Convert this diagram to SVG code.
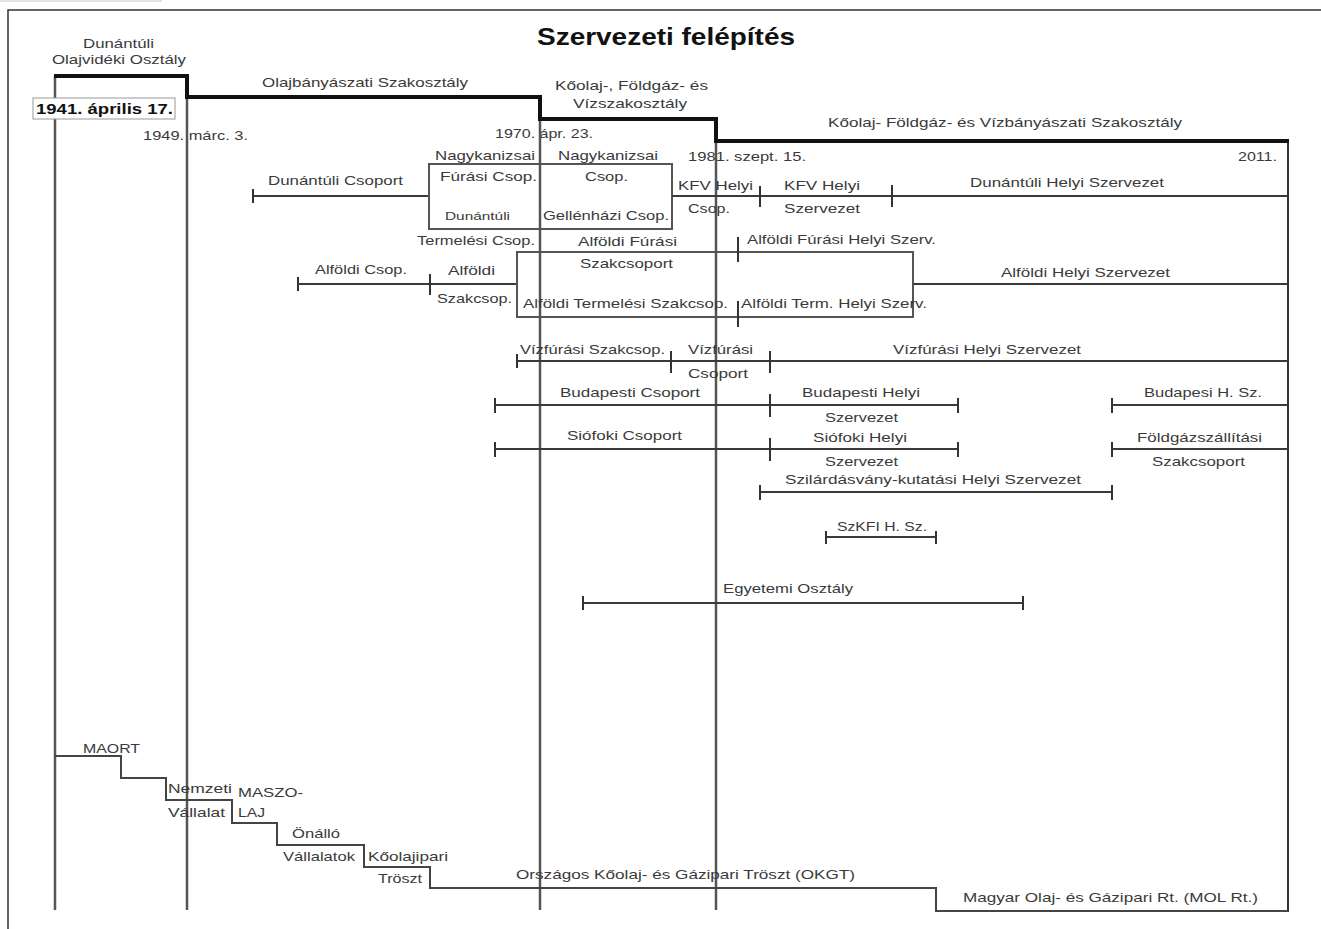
<svg xmlns="http://www.w3.org/2000/svg" width="1321" height="929" viewBox="0 0 1321 929">
<style>
.t{font-family:"Liberation Sans",Arial,sans-serif;font-size:13.5px;fill:#3a3a3a}
.s{font-size:11px}
.b{font-weight:bold;fill:#111}
.ln{stroke:#3a3a3a;stroke-width:2;fill:none}
.tk{stroke:#333;stroke-width:2}
.v{stroke:#555;stroke-width:2.5;fill:none}
.bx{stroke:#555;stroke-width:2;fill:none}
.stair{stroke:#444;stroke-width:2;fill:none}
</style>
<rect x="0" y="0" width="1321" height="929" fill="#fff"/>
<g id="frame">
  <rect x="0" y="0" width="162" height="2" fill="#e2e2e2"/>
  <path d="M8,929 V10 H1321" stroke="#333" stroke-width="1.5" fill="none"/>
  <text class="t b" x="537" y="45" style="font-size:24px" textLength="258" lengthAdjust="spacingAndGlyphs">Szervezeti felépítés</text>
</g>

<g id="texts-top">
  <text class="t" x="83" y="48" textLength="71" lengthAdjust="spacingAndGlyphs">Dunántúli</text>
  <text class="t" x="52" y="64" textLength="134" lengthAdjust="spacingAndGlyphs">Olajvidéki Osztály</text>
  <text class="t" x="262" y="87" textLength="206" lengthAdjust="spacingAndGlyphs">Olajbányászati Szakosztály</text>
  <text class="t" x="555" y="90" textLength="153" lengthAdjust="spacingAndGlyphs">Kőolaj-, Földgáz- és</text>
  <text class="t" x="573" y="108" textLength="114" lengthAdjust="spacingAndGlyphs">Vízszakosztály</text>
  <text class="t" x="828" y="127" textLength="354" lengthAdjust="spacingAndGlyphs">Kőolaj- Földgáz- és Vízbányászati Szakosztály</text>
  <text class="t" x="143" y="140" textLength="105" lengthAdjust="spacingAndGlyphs">1949. márc. 3.</text>
  <text class="t" x="495" y="138" textLength="98" lengthAdjust="spacingAndGlyphs">1970. ápr. 23.</text>
  <text class="t" x="688" y="161" textLength="118" lengthAdjust="spacingAndGlyphs">1981. szept. 15.</text>
  <text class="t" x="1238" y="161" textLength="39" lengthAdjust="spacingAndGlyphs">2011.</text>
</g>

<g id="connectors">
  <line class="v" x1="55" y1="76" x2="55" y2="910"/>
  <line class="v" x1="187" y1="97" x2="187" y2="910"/>
  <line class="v" x1="540" y1="119" x2="540" y2="910"/>
  <line class="v" x1="716" y1="141" x2="716" y2="910"/>
  <line x1="1288" y1="141" x2="1288" y2="912" stroke="#333" stroke-width="2"/>
  <path d="M54,76 H187 V97 H540 V119 H716 V141 H1289" stroke="#111" stroke-width="4" fill="none"/>
</g>

<g id="date-1941">
  <rect x="33" y="98" width="142" height="21" fill="#fff" stroke="#999" stroke-width="1"/>
  <text class="t b" x="36" y="114" style="font-size:15px" textLength="137" lengthAdjust="spacingAndGlyphs">1941. április 17.</text>
</g>

<g id="dunantul">
  <text class="t" x="268" y="185" textLength="135" lengthAdjust="spacingAndGlyphs">Dunántúli Csoport</text>
  <line class="ln" x1="253" y1="196" x2="429" y2="196"/>
  <line class="tk" x1="253" y1="189" x2="253" y2="203"/>
  <rect class="bx" x="429" y="164" width="243" height="65"/>
  <text class="t" x="435" y="160" textLength="100" lengthAdjust="spacingAndGlyphs">Nagykanizsai</text>
  <text class="t" x="440" y="181" textLength="97" lengthAdjust="spacingAndGlyphs">Fúrási Csop.</text>
  <text class="t s" x="445" y="220" textLength="65" lengthAdjust="spacingAndGlyphs">Dunántúli</text>
  <text class="t" x="417" y="245" textLength="118" lengthAdjust="spacingAndGlyphs">Termelési Csop.</text>
  <text class="t" x="558" y="160" textLength="100" lengthAdjust="spacingAndGlyphs">Nagykanizsai</text>
  <text class="t" x="585" y="181" textLength="43" lengthAdjust="spacingAndGlyphs">Csop.</text>
  <text class="t" x="543" y="220" textLength="126" lengthAdjust="spacingAndGlyphs">Gellénházi Csop.</text>
  <line class="ln" x1="672" y1="196" x2="1288" y2="196"/>
  <line class="tk" x1="760" y1="186" x2="760" y2="207"/>
  <line class="tk" x1="892" y1="185" x2="892" y2="207"/>
  <text class="t" x="678" y="190" textLength="75" lengthAdjust="spacingAndGlyphs">KFV Helyi</text>
  <text class="t" x="688" y="213" textLength="42" lengthAdjust="spacingAndGlyphs">Csop.</text>
  <text class="t" x="784" y="190" textLength="76" lengthAdjust="spacingAndGlyphs">KFV Helyi</text>
  <text class="t" x="784" y="213" textLength="76" lengthAdjust="spacingAndGlyphs">Szervezet</text>
  <text class="t" x="970" y="187" textLength="194" lengthAdjust="spacingAndGlyphs">Dunántúli Helyi Szervezet</text>
</g>

<g id="alfold">
  <text class="t" x="315" y="274" textLength="92" lengthAdjust="spacingAndGlyphs">Alföldi Csop.</text>
  <line class="ln" x1="298" y1="284" x2="517" y2="284"/>
  <line class="tk" x1="298" y1="277" x2="298" y2="291"/>
  <line class="tk" x1="430" y1="274" x2="430" y2="295"/>
  <text class="t" x="448" y="275" textLength="47" lengthAdjust="spacingAndGlyphs">Alföldi</text>
  <text class="t" x="437" y="303" textLength="75" lengthAdjust="spacingAndGlyphs">Szakcsop.</text>
  <rect class="bx" x="517" y="252" width="396" height="65"/>
  <text class="t" x="578" y="246" textLength="99" lengthAdjust="spacingAndGlyphs">Alföldi Fúrási</text>
  <text class="t" x="580" y="268" textLength="93" lengthAdjust="spacingAndGlyphs">Szakcsoport</text>
  <text class="t" x="523" y="308" textLength="205" lengthAdjust="spacingAndGlyphs">Alföldi Termelési Szakcsop.</text>
  <line class="tk" x1="738" y1="237" x2="738" y2="262"/>
  <line class="tk" x1="738" y1="301" x2="738" y2="327"/>
  <text class="t" x="747" y="244" textLength="189" lengthAdjust="spacingAndGlyphs">Alföldi Fúrási Helyi Szerv.</text>
  <text class="t" x="741" y="308" textLength="186" lengthAdjust="spacingAndGlyphs">Alföldi Term. Helyi Szerv.</text>
  <line class="ln" x1="913" y1="284" x2="1288" y2="284"/>
  <text class="t" x="1001" y="277" textLength="169" lengthAdjust="spacingAndGlyphs">Alföldi Helyi Szervezet</text>
</g>

<g id="vizfuras">
  <line class="ln" x1="517" y1="361" x2="1288" y2="361"/>
  <line class="tk" x1="517" y1="354" x2="517" y2="368"/>
  <line class="tk" x1="671" y1="351" x2="671" y2="373"/>
  <line class="tk" x1="770" y1="351" x2="770" y2="373"/>
  <text class="t" x="520" y="354" textLength="145" lengthAdjust="spacingAndGlyphs">Vízfúrási Szakcsop.</text>
  <text class="t" x="688" y="354" textLength="65" lengthAdjust="spacingAndGlyphs">Vízfúrási</text>
  <text class="t" x="688" y="378" textLength="60" lengthAdjust="spacingAndGlyphs">Csoport</text>
  <text class="t" x="893" y="354" textLength="188" lengthAdjust="spacingAndGlyphs">Vízfúrási Helyi Szervezet</text>
</g>

<g id="budapest">
  <line class="ln" x1="495" y1="405" x2="958" y2="405"/>
  <line class="tk" x1="495" y1="398" x2="495" y2="413"/>
  <line class="tk" x1="770" y1="394" x2="770" y2="417"/>
  <line class="tk" x1="958" y1="398" x2="958" y2="413"/>
  <text class="t" x="560" y="397" textLength="140" lengthAdjust="spacingAndGlyphs">Budapesti Csoport</text>
  <text class="t" x="802" y="397" textLength="118" lengthAdjust="spacingAndGlyphs">Budapesti Helyi</text>
  <text class="t" x="825" y="422" textLength="73" lengthAdjust="spacingAndGlyphs">Szervezet</text>
  <line class="ln" x1="1112" y1="405" x2="1288" y2="405"/>
  <line class="tk" x1="1112" y1="398" x2="1112" y2="413"/>
  <text class="t" x="1144" y="397" textLength="118" lengthAdjust="spacingAndGlyphs">Budapesi H. Sz.</text>
</g>

<g id="siofok">
  <line class="ln" x1="495" y1="449" x2="958" y2="449"/>
  <line class="tk" x1="495" y1="442" x2="495" y2="457"/>
  <line class="tk" x1="770" y1="438" x2="770" y2="461"/>
  <line class="tk" x1="958" y1="442" x2="958" y2="457"/>
  <text class="t" x="567" y="440" textLength="115" lengthAdjust="spacingAndGlyphs">Siófoki Csoport</text>
  <text class="t" x="813" y="442" textLength="94" lengthAdjust="spacingAndGlyphs">Siófoki Helyi</text>
  <text class="t" x="825" y="466" textLength="73" lengthAdjust="spacingAndGlyphs">Szervezet</text>
  <line class="ln" x1="1112" y1="449" x2="1288" y2="449"/>
  <line class="tk" x1="1112" y1="442" x2="1112" y2="457"/>
  <text class="t" x="1137" y="442" textLength="125" lengthAdjust="spacingAndGlyphs">Földgázszállítási</text>
  <text class="t" x="1152" y="466" textLength="93" lengthAdjust="spacingAndGlyphs">Szakcsoport</text>
</g>

<g id="szilardasvany">
  <line class="ln" x1="760" y1="492" x2="1112" y2="492"/>
  <line class="tk" x1="760" y1="485" x2="760" y2="500"/>
  <line class="tk" x1="1112" y1="485" x2="1112" y2="500"/>
  <text class="t" x="785" y="484" textLength="296" lengthAdjust="spacingAndGlyphs">Szilárdásvány-kutatási Helyi Szervezet</text>
</g>

<g id="szkfi">
  <line class="ln" x1="826" y1="537" x2="936" y2="537"/>
  <line class="tk" x1="826" y1="531" x2="826" y2="544"/>
  <line class="tk" x1="936" y1="531" x2="936" y2="544"/>
  <text class="t" x="837" y="531" textLength="90" lengthAdjust="spacingAndGlyphs">SzKFI H. Sz.</text>
</g>

<g id="egyetemi">
  <line class="ln" x1="583" y1="603" x2="1023" y2="603"/>
  <line class="tk" x1="583" y1="596" x2="583" y2="610"/>
  <line class="tk" x1="1023" y1="596" x2="1023" y2="610"/>
  <text class="t" x="723" y="593" textLength="130" lengthAdjust="spacingAndGlyphs">Egyetemi Osztály</text>
</g>

<g id="corporate">
  <path class="stair" d="M55,756 H121 V778 H166 V800 H232 V823 H277 V845 H364 V867 H430 V888 H936 V911 H1288"/>
  <text class="t" x="83" y="753" textLength="57" lengthAdjust="spacingAndGlyphs">MAORT</text>
  <text class="t" x="168" y="793" textLength="64" lengthAdjust="spacingAndGlyphs">Nemzeti</text>
  <text class="t" x="168" y="817" textLength="57" lengthAdjust="spacingAndGlyphs">Vállalat</text>
  <text class="t" x="238" y="797" textLength="65" lengthAdjust="spacingAndGlyphs">MASZO-</text>
  <text class="t" x="238" y="817" textLength="27" lengthAdjust="spacingAndGlyphs">LAJ</text>
  <text class="t" x="292" y="838" textLength="48" lengthAdjust="spacingAndGlyphs">Önálló</text>
  <text class="t" x="283" y="861" textLength="72" lengthAdjust="spacingAndGlyphs">Vállalatok</text>
  <text class="t" x="368" y="861" textLength="80" lengthAdjust="spacingAndGlyphs">Kőolajipari</text>
  <text class="t" x="378" y="883" textLength="44" lengthAdjust="spacingAndGlyphs">Tröszt</text>
  <text class="t" x="516" y="879" textLength="339" lengthAdjust="spacingAndGlyphs">Országos Kőolaj- és Gázipari Tröszt (OKGT)</text>
  <text class="t" x="963" y="902" textLength="295" lengthAdjust="spacingAndGlyphs">Magyar Olaj- és Gázipari Rt. (MOL Rt.)</text>
</g>
</svg>
